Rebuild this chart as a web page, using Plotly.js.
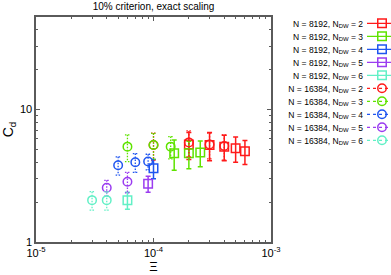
<!DOCTYPE html>
<html>
<head>
<meta charset="utf-8">
<script src="https://cdn.plot.ly/plotly-3.0.1.min.js"></script>
<style>html,body{margin:0;padding:0;background:#fff}#chart{width:391px;height:275px}</style>
</head>
<body>
<div id="chart"></div>
<script>
// ---- data ----
const seriesNames = [
  'N = 8192, N<sub>DW</sub> = 2', 'N = 8192, N<sub>DW</sub> = 3', 'N = 8192, N<sub>DW</sub> = 4',
  'N = 8192, N<sub>DW</sub> = 5', 'N = 8192, N<sub>DW</sub> = 6',
  'N = 16384, N<sub>DW</sub> = 2', 'N = 16384, N<sub>DW</sub> = 3', 'N = 16384, N<sub>DW</sub> = 4',
  'N = 16384, N<sub>DW</sub> = 5', 'N = 16384, N<sub>DW</sub> = 6'
];
// N = 8192 (squares)
const xN8192_DW2 = [2e-4, 3e-4, 4e-4, 5e-4, 6e-4];
const yN8192_DW2 = [5.45, 5.4, 5.25, 5.1, 4.85];
const eN8192_DW2 = [1.25, 1.3, 1.15, 1.1, 1.0];
const xN8192_DW3 = [1.5e-4, 2e-4, 2.5e-4];
const yN8192_DW3 = [4.68, 4.67, 4.75];
const eN8192_DW3 = [1.2, 1.1, 1.05];
const xN8192_DW4 = [1e-4];
const yN8192_DW4 = [3.6];
const eN8192_DW4 = [0.6];
const xN8192_DW5 = [9e-5];
const yN8192_DW5 = [2.75];
const eN8192_DW5 = [0.38];
const xN8192_DW6 = [6e-5];
const yN8192_DW6 = [2.07];
const eN8192_DW6 = [0.3];
// N = 16384 (circles)
const xN16384_DW2 = [1e-4, 2e-4, 3e-4, 4e-4];
const yN16384_DW2 = [5.4, 5.65, 5.45, 5.3];
const eN16384_DW2 = [1.25, 1.25, 1.2, 1.15];
const xN16384_DW3 = [6e-5, 1e-4, 1.4e-4];
const yN16384_DW3 = [5.25, 5.4, 5.25];
const eN16384_DW3 = [1.2, 1.2, 1.0];
const xN16384_DW4 = [5e-5, 7e-5, 9e-5];
const yN16384_DW4 = [3.8, 4.0, 4.05];
const eN16384_DW4 = [0.6, 0.65, 0.55];
const xN16384_DW5 = [4e-5, 6e-5];
const yN16384_DW5 = [2.57, 2.85];
const eN16384_DW5 = [0.35, 0.5];
const xN16384_DW6 = [3e-5, 4e-5];
const yN16384_DW6 = [2.07, 2.07];
const eN16384_DW6 = [0.33, 0.33];

const xTickVals = [1e-5, 1e-4, 1e-3];
const xTickText = ['10<sup>-5</sup>', '10<sup>-4</sup>', '10<sup>-3</sup>'];
const yTickVals = [1, 10];
const yTickText = ['1', '10'];

const colors = ['#ff1a1a', '#5fe300', '#1f55f0', '#9b3cf0', '#62f0c6'];

const xs = [xN8192_DW2, xN8192_DW3, xN8192_DW4, xN8192_DW5, xN8192_DW6,
            xN16384_DW2, xN16384_DW3, xN16384_DW4, xN16384_DW5, xN16384_DW6];
const ys = [yN8192_DW2, yN8192_DW3, yN8192_DW4, yN8192_DW5, yN8192_DW6,
            yN16384_DW2, yN16384_DW3, yN16384_DW4, yN16384_DW5, yN16384_DW6];
const es = [eN8192_DW2, eN8192_DW3, eN8192_DW4, eN8192_DW5, eN8192_DW6,
            eN16384_DW2, eN16384_DW3, eN16384_DW4, eN16384_DW5, eN16384_DW6];

// interleave nulls so points are not joined, but the legend still shows a line sample
function gap(a) { const o = []; a.forEach((v, i) => { if (i) o.push(null); o.push(v); }); return o; }
function gap0(a) { const o = []; a.forEach((v, i) => { if (i) o.push(0); o.push(v); }); return o; }

const traces = xs.map((x, i) => {
  const sq = i < 5;
  const c = colors[i % 5];
  return {
    type: 'scatter', mode: 'lines+markers', name: seriesNames[i],
    x: gap(x), y: gap(ys[i]), connectgaps: false,
    line: {color: c, width: 1.3, dash: sq ? 'solid' : 'dot'},
    marker: {symbol: sq ? 'square-open' : 'circle-open', size: 8.5, color: c, line: {color: c, width: 1.5}},
    error_y: {type: 'data', array: gap0(es[i]), visible: true, color: c, thickness: sq ? 1.5 : 1.3, width: 2.5},
    cliponaxis: false
  };
});

function minorVals(lo, hi) {
  const v = [];
  for (let d = lo; d < hi; d++) for (let k = 2; k <= 9; k++) v.push(k * Math.pow(10, d));
  return v;
}

const axisCommon = {
  type: 'log', showgrid: false, zeroline: false, showline: true, linecolor: '#5a5a5a', linewidth: 1.6,
  mirror: 'allticks', ticks: 'inside', ticklen: 4, tickwidth: 1, tickcolor: '#5a5a5a',
  tickmode: 'array', tickfont: {family: 'Liberation Sans, Arial, sans-serif', size: 11, color: '#000'}
};

const layout = {
  width: 391, height: 275,
  margin: {l: 36, r: 120, t: 17, b: 33, autoexpand: false},
  paper_bgcolor: '#fff', plot_bgcolor: '#fff',
  font: {family: 'Liberation Sans, Arial, sans-serif', color: '#000'},
  title: {text: '10% criterion, exact scaling', font: {size: 10, color: '#000'}, x: 0.5, xref: 'paper', xanchor: 'center', y: 0.975, yanchor: 'middle'},
  xaxis: Object.assign({}, axisCommon, {
    range: [-5, -3], tickvals: xTickVals, ticktext: xTickText,
    minor: {ticks: 'inside', ticklen: 2, tickcolor: '#5a5a5a', tickmode: 'array', tickvals: minorVals(-5, -3)},
    title: {text: 'Ξ', font: {size: 13}, standoff: 4}
  }),
  yaxis: Object.assign({}, axisCommon, {
    range: [0, Math.log10(50)], tickvals: yTickVals, ticktext: yTickText,
    minor: {ticks: 'inside', ticklen: 2, tickcolor: '#5a5a5a', tickmode: 'array', tickvals: minorVals(0, 2)},
    title: {text: 'C<sub>d</sub>', font: {size: 14}, standoff: 4}
  }),
  showlegend: true,
  legend: {x: 1.02, xanchor: 'left', y: 1.025, yanchor: 'top', font: {size: 8.5, color: '#000'},
           bgcolor: 'rgba(0,0,0,0)', itemwidth: 30, traceorder: 'normal', maxheight: 400}
};

Plotly.newPlot('chart', traces, layout, {staticPlot: true, displayModeBar: false}).then(gd => {
  try {
    // dotted error bars for the N = 16384 (circle) series
    gd.querySelectorAll('.scatterlayer .trace').forEach((t, i) => {
      if (i >= 5) t.querySelectorAll('.errorbar path').forEach(p => p.style.strokeDasharray = '1.5,1.5');
    });
    // compact legend: text right-aligned, sample to the right (as in the reference)
    const items = gd.querySelectorAll('.legend g.traces');
    const firstRow = 23.3, rowStep = 13.0, textRightAbs = 363, symLeftAbs = 362;
    items.forEach((g, i) => {
      const pm = g.parentNode.getCTM();
      g.setAttribute('transform', 'translate(0,' + (firstRow + i * rowStep - pm.f) + ')');
      const t = g.querySelector('text.legendtext');
      t.setAttribute('text-anchor', 'end');
      t.setAttribute('x', textRightAbs - pm.e);
      const L = g.querySelector('g.layers');
      if (L) L.setAttribute('transform', 'translate(' + (symLeftAbs - pm.e) + ',0)');
    });
  } catch (e) { console.log(e); }
});
</script>
</body>
</html>
